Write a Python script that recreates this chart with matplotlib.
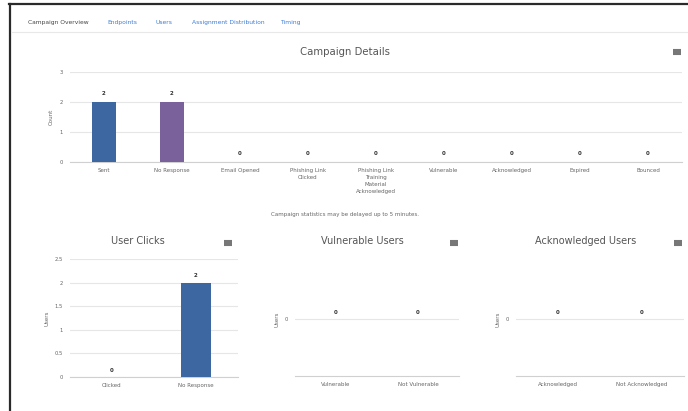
import matplotlib
matplotlib.use("Agg")
import matplotlib.pyplot as plt
from matplotlib.lines import Line2D

# ---------------- data ----------------
tabs = ["Campaign Overview", "Endpoints", "Users", "Assignment Distribution", "Timing"]

detail_categories = ["Sent", "No Response", "Email Opened", "Phishing Link\nClicked",
                     "Phishing Link\nTraining\nMaterial\nAcknowledged", "Vulnerable",
                     "Acknowledged", "Expired", "Bounced"]
detail_values = [2, 2, 0, 0, 0, 0, 0, 0, 0]
detail_colors = ["#3d67a0", "#7b619c", "#3d67a0", "#3d67a0", "#3d67a0",
                 "#3d67a0", "#3d67a0", "#3d67a0", "#3d67a0"]
detail_ticks = [0, 1, 2, 3]

clicks_categories = ["Clicked", "No Response"]
clicks_values = [0, 2]
clicks_ticks = [0, 0.5, 1, 1.5, 2, 2.5]
clicks_ticklabels = ["0", "0.5", "1", "1.5", "2", "2.5"]

vuln_categories = ["Vulnerable", "Not Vulnerable"]
vuln_values = [0, 0]

ack_categories = ["Acknowledged", "Not Acknowledged"]
ack_values = [0, 0]

note_text = "Campaign statistics may be delayed up to 5 minutes."

# ---------------- figure ----------------
W, H = 688, 411
fig = plt.figure(figsize=(W / 100, H / 100), dpi=100)
fig.patch.set_facecolor("white")

def fx(x):
    return x / W

def fy(y):
    return 1 - y / H

def ax_px(l, t, r, b):
    return fig.add_axes([l / W, 1 - b / H, (r - l) / W, (b - t) / H])

TXT = "#555555"
TICK = "#666666"
GRID = "#e6e6e6"
AXLINE = "#d0d0d0"

# page frame
fig.add_artist(Line2D([fx(9.5), fx(9.5)], [fy(4), fy(411)], color="#2a2a2a", lw=1.6))
fig.add_artist(Line2D([fx(9), fx(688)], [fy(4.5), fy(4.5)], color="#2a2a2a", lw=1.6))
fig.add_artist(Line2D([fx(12), fx(688)], [fy(32), fy(32)], color="#e8e8e8", lw=0.8))

# tabs
tab_x = [58, 122, 164, 228, 290]
for i, (t, x) in enumerate(zip(tabs, tab_x)):
    fig.text(fx(x), fy(22.5), t, ha="center", va="center", fontsize=4.3,
             color="#444444" if i == 0 else "#3b7dd8")

def hamburger(x, y):
    for dy in (-2.3, 0, 2.3):
        fig.add_artist(Line2D([fx(x - 4), fx(x + 4)], [fy(y + dy), fy(y + dy)],
                              color="#777777", lw=1.5, solid_capstyle="butt"))

def style_axis(ax, ymin, ymax, ticks, ticklabels, ylabel, n):
    ax.set_xlim(-0.5, n - 0.5)
    ax.set_ylim(ymin, ymax)
    for s in ("top", "right", "left"):
        ax.spines[s].set_visible(False)
    ax.spines["bottom"].set_color(AXLINE)
    ax.spines["bottom"].set_linewidth(0.8)
    ax.set_yticks(ticks)
    ax.set_yticklabels(ticklabels)
    ax.tick_params(axis="y", length=0, labelsize=3.8, labelcolor=TICK, pad=5)
    ax.tick_params(axis="x", length=0, labelsize=4.0, labelcolor=TICK, pad=4)
    ax.yaxis.grid(True, color=GRID, lw=0.8)
    ax.set_axisbelow(True)
    ax.set_ylabel(ylabel, fontsize=4.0, color=TICK, labelpad=4)
    ax.patch.set_alpha(0)

# ---------------- Campaign Details ----------------
fig.text(fx(345), fy(52), "Campaign Details", ha="center", va="center", fontsize=7.3, color=TXT)
hamburger(677, 52)
ax = ax_px(70, 72, 682, 162)
n = len(detail_categories)
ax.bar(range(n), detail_values, width=0.35, color=detail_colors, zorder=3)
style_axis(ax, 0, 3, detail_ticks, [str(t) for t in detail_ticks], "Count", n)
ax.set_xticks(range(n))
ax.set_xticklabels(detail_categories, linespacing=1.5)
for i, v in enumerate(detail_values):
    ax.annotate(str(v), (i, v), xytext=(0, 4), textcoords="offset points",
                ha="center", va="bottom", fontsize=4.0, color="#333333", fontweight="bold")
fig.text(fx(345), fy(214), note_text, ha="center", va="center", fontsize=4.0, color=TICK)

# ---------------- User Clicks ----------------
fig.text(fx(138), fy(241), "User Clicks", ha="center", va="center", fontsize=7.0, color=TXT)
hamburger(228, 243)
ax2 = ax_px(70, 259, 238, 377)
ax2.bar(range(2), clicks_values, width=0.35, color="#3d67a0", zorder=3)
style_axis(ax2, 0, 2.5, clicks_ticks, clicks_ticklabels, "Users", 2)
ax2.set_xticks(range(2))
ax2.set_xticklabels(clicks_categories)
for i, v in enumerate(clicks_values):
    ax2.annotate(str(v), (i, v), xytext=(0, 3), textcoords="offset points",
                 ha="center", va="bottom", fontsize=4.0, color="#333333", fontweight="bold")

# ---------------- Vulnerable Users / Acknowledged Users ----------------
def zero_chart(l, r, title, tx, hx, cats, vals):
    fig.text(fx(tx), fy(241), title, ha="center", va="center", fontsize=7.0, color=TXT)
    hamburger(hx, 243)
    a = ax_px(l, 262, r, 376)
    a.bar(range(len(cats)), vals, width=0.35, color="#3d67a0", zorder=3)
    style_axis(a, -1, 1, [0], ["0"], "Users", len(cats))
    a.set_xticks(range(len(cats)))
    a.set_xticklabels(cats)
    for i, v in enumerate(vals):
        a.annotate(str(v), (i, v), xytext=(0, 3), textcoords="offset points",
                   ha="center", va="bottom", fontsize=4.0, color="#333333", fontweight="bold")
    return a

zero_chart(295, 459, "Vulnerable Users", 362, 454, vuln_categories, vuln_values)
zero_chart(516, 684, "Acknowledged Users", 586, 678, ack_categories, ack_values)

fig.savefig("out.png", dpi=100, facecolor="white")
